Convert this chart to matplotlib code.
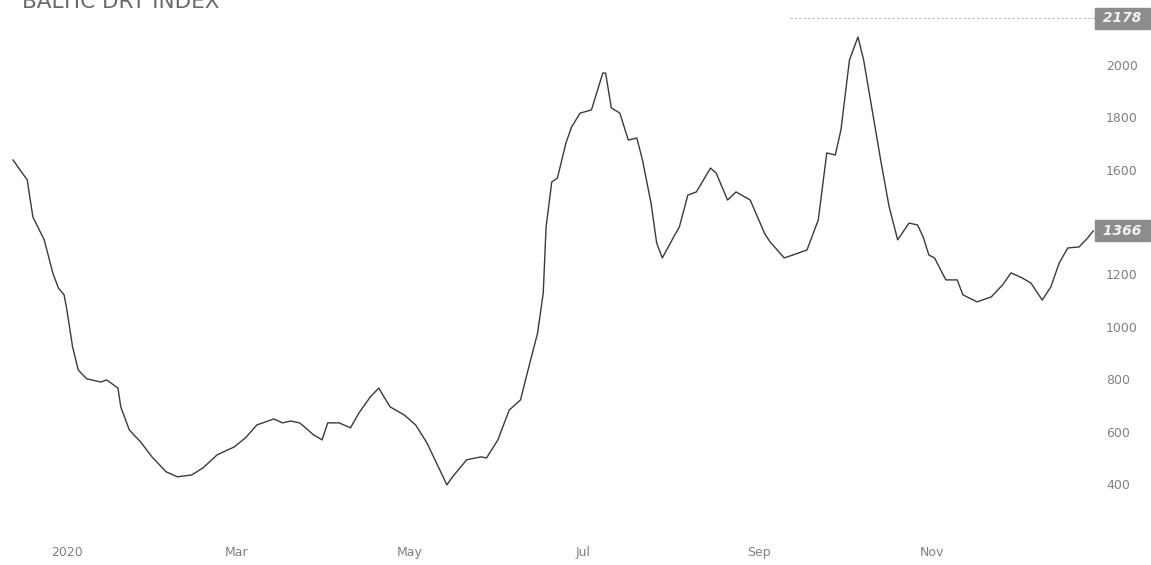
import matplotlib
matplotlib.use('Agg')
import matplotlib.pyplot as plt
import matplotlib.transforms as mtransforms
import numpy as np
import pandas as pd

# Baltic Dry Index (days counted from 2020-01-01)
jours = [-19, -16, -14, -12, -8, -5, -3, -1, 0, 2,
         4, 7, 12, 14, 18, 19, 22, 26, 30, 35,
         39, 44, 48, 53, 59, 63, 67, 73, 76, 79,
         82, 83, 87, 90, 92, 96, 100, 103, 107, 110,
         111, 114, 119, 123, 127, 131, 134, 136, 141, 146,
         148, 152, 156, 160, 162, 166, 168, 169, 171, 173,
         176, 178, 181, 185, 189, 190, 192, 195, 198, 201,
         203, 206, 208, 210, 214, 216, 219, 222, 227, 229,
         233, 236, 241, 246, 248, 253, 256, 261, 265, 268,
         271, 273, 276, 279, 281, 284, 287, 290, 293, 297,
         300, 302, 304, 306, 310, 314, 316, 321, 326, 330,
         333, 337, 340, 344, 347, 350, 353, 357, 360, 362]
bdi = [1637, 1591, 1561, 1419, 1332, 1206, 1148, 1122, 1064, 923,
       835, 801, 789, 797, 766, 694, 606, 560, 503, 446,
       427, 434, 461, 511, 541, 576, 625, 648, 633, 640,
       633, 625, 587, 568, 633, 633, 614, 671, 732, 766,
       747, 694, 663, 625, 556, 465, 396, 427, 492, 503,
       499, 568, 682, 721, 808, 976, 1129, 1381, 1553, 1568,
       1702, 1763, 1816, 1828, 1969, 1969, 1836, 1816, 1713, 1721,
       1637, 1473, 1320, 1263, 1343, 1381, 1503, 1515, 1606, 1587,
       1484, 1515, 1484, 1358, 1324, 1263, 1274, 1293, 1408, 1664,
       1656, 1752, 2019, 2107, 2019, 1828, 1637, 1458, 1332, 1396,
       1389, 1343, 1274, 1263, 1179, 1179, 1122, 1095, 1114, 1160,
       1206, 1186, 1167, 1102, 1152, 1244, 1301, 1305, 1339, 1366]

valeur_haute = 2178
derniere_valeur = 1366

ticks_y = [400, 600, 800, 1000, 1200, 1400, 1600, 1800, 2000]
mois = ['2020-01-01', '2020-03-01', '2020-05-01', '2020-07-01', '2020-09-01', '2020-11-01']
noms_mois = ['2020', 'Mar', 'May', 'Jul', 'Sep', 'Nov']

debut = pd.Timestamp('2020-01-01')
dates = debut + pd.to_timedelta(jours, unit='D')

fig = plt.figure(figsize=(11.51, 5.65), dpi=100)
ax = fig.add_axes([0.0, 45 / 565, 1095 / 1151, 520 / 565])

ax.plot(dates, bdi, color='#3a3a3a', linewidth=1.0)

# ligne pointillée pour le plus haut
ax.hlines(valeur_haute, debut + pd.Timedelta(days=255), debut + pd.Timedelta(days=363),
          colors='#b8b8b8', linewidth=0.8, linestyles=(0, (2, 2)))

ax.set_xlim(debut + pd.Timedelta(days=-23.6), debut + pd.Timedelta(days=362.6))
ax.set_ylim(262, 2248)

ax.yaxis.tick_right()
ax.set_yticks(ticks_y)
ax.set_yticklabels([str(t) if t != 1400 else '' for t in ticks_y])  # 1400 caché par la boîte
ax.set_xticks(pd.to_datetime(mois))
ax.set_xticklabels(noms_mois)
ax.tick_params(axis='y', length=0, pad=8, labelsize=9, labelcolor='#808080')
ax.tick_params(axis='x', length=0, pad=19, labelsize=9, labelcolor='#808080')

for s in ax.spines.values():
    s.set_visible(False)

# boîtes de valeur à droite
trans = mtransforms.blended_transform_factory(ax.transAxes, ax.transData)
for v in [valeur_haute, derniere_valeur]:
    ax.text(1.003, v, f' {v} ', transform=trans, ha='left', va='center',
            fontsize=10, fontstyle='italic', fontweight='bold', color='#f2f2f2',
            bbox=dict(boxstyle='square,pad=0.25', facecolor='#8c8c8c', edgecolor='#8c8c8c'),
            clip_on=False)

# titre coupé en haut comme sur l'image
fig.text(0.019, 1 - 8 / 565, 'BALTIC DRY INDEX', ha='left', va='baseline',
         fontsize=15.5, color='#6a6a6a')

plt.savefig('out.png', dpi=100)
